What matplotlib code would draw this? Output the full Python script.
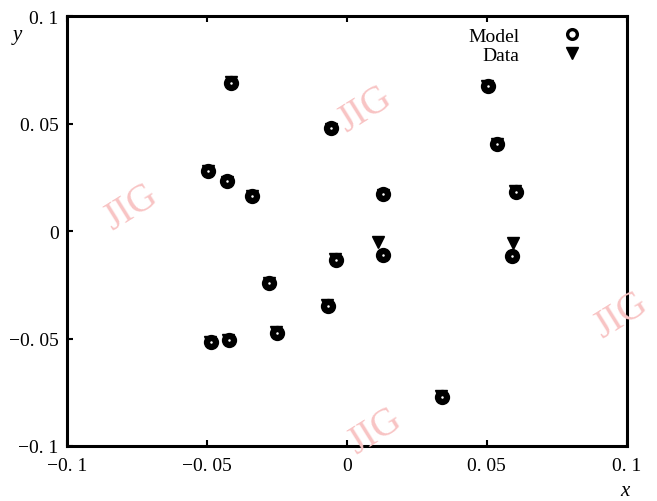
import matplotlib
matplotlib.use("Agg")
import matplotlib.pyplot as plt
from matplotlib.ticker import FixedLocator
from matplotlib.lines import Line2D

plt.rcParams['font.family'] = ['Liberation Serif', 'DejaVu Serif']

model_x = [-0.0414, -0.0057, 0.0504, 0.0536, 0.0604, 0.0129, -0.0496, -0.0429, -0.0339,
           0.0129, -0.0039, 0.0590, -0.0279, -0.0068, -0.0250, -0.0486, -0.0421, 0.0339]
model_y = [0.0688, 0.0479, 0.0674, 0.0405, 0.0181, 0.0172, 0.0279, 0.0233, 0.0163,
           -0.0110, -0.0135, -0.0116, -0.0242, -0.0349, -0.0474, -0.0516, -0.0507, -0.0772]
data_x = [-0.0414, -0.0057, 0.0500, 0.0536, 0.0600, 0.0129, -0.0496, -0.0429, -0.0339,
          0.0110, -0.0043, 0.0592, -0.0279, -0.0072, -0.0254, -0.0490, -0.0425, 0.0336]
data_y = [0.0692, 0.0474, 0.0674, 0.0405, 0.0186, 0.0168, 0.0279, 0.0230, 0.0163,
          -0.0050, -0.0132, -0.0056, -0.0240, -0.0345, -0.0468, -0.0516, -0.0507, -0.0768]

xticks = [-0.1, -0.05, 0, 0.05, 0.1]
xticklabels = ['\u22120. 1', '\u22120. 05', '0', '0. 05', '0. 1']
yticks = [-0.1, -0.05, 0, 0.05, 0.1]
yticklabels = ['\u22120. 1', '\u22120. 05', '0', '0. 05', '0. 1']

fig = plt.figure(figsize=(6.57, 5.02), dpi=100)
ax = fig.add_axes([0.102, 0.1096, 0.852, 0.8564])

# watermarks
for (wx, wy) in [(0.555, 0.78), (0.20, 0.585), (0.945, 0.37), (0.57, 0.14)]:
    fig.text(wx, wy, 'JIG', color='#f8c4c4', fontsize=28, rotation=32,
             ha='center', va='center', zorder=0)

ax.plot(data_x, data_y, linestyle='none', marker='v', ms=9, color='black',
        mec='black', label='Data', zorder=3)
ax.plot(model_x, model_y, linestyle='none', marker='o', ms=9.5, mfc='black',
        mec='black', mew=1.5, label='Model', zorder=4)
ax.plot(model_x, model_y, linestyle='none', marker='o', ms=1.8, mfc='white',
        mec='white', mew=0, zorder=5)

ax.set_xlim(-0.1, 0.1)
ax.set_ylim(-0.1, 0.1)
ax.xaxis.set_major_locator(FixedLocator(xticks))
ax.yaxis.set_major_locator(FixedLocator(yticks))
ax.set_xticklabels(xticklabels, fontsize=14)
ax.set_yticklabels(yticklabels, fontsize=14)
ax.tick_params(axis='x', direction='in', length=4, width=1.5, top=True, pad=8)
ax.tick_params(axis='y', direction='in', length=4, width=1.5, right=False, pad=6)
for s in ax.spines.values():
    s.set_linewidth(2.2)
ax.patch.set_alpha(0)

fig.text(0.027, 0.93, 'y', fontsize=15, style='italic', ha='center', va='center')
fig.text(0.951, 0.02, 'x', fontsize=15, style='italic', ha='center', va='center')

h_model = Line2D([], [], linestyle='none', marker='o', ms=7, mfc='white', mec='black', mew=2.4)
h_data = Line2D([], [], linestyle='none', marker='v', ms=8, color='black')
leg = ax.legend([h_model, h_data], ['Model', 'Data'], loc='upper right',
                bbox_to_anchor=(0.95, 1.015), frameon=False, markerfirst=False,
                fontsize=14, handletextpad=2.2, labelspacing=0.1, handlelength=1.0)

fig.savefig('out.png', dpi=100)
